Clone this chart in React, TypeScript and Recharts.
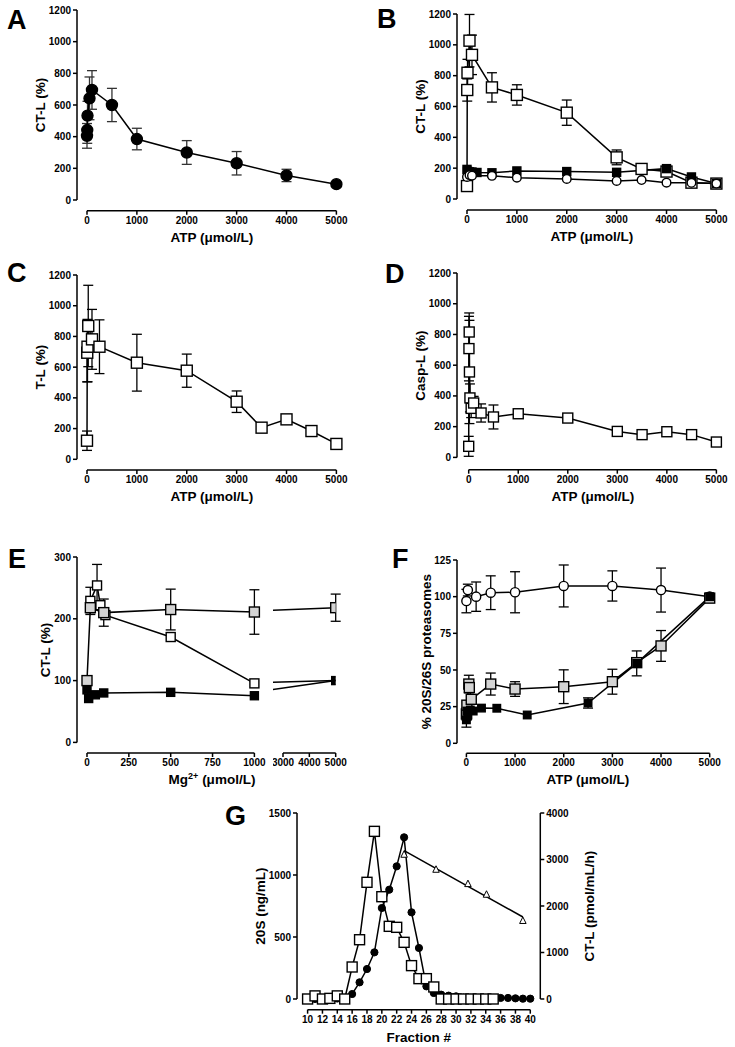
import React from 'react';
import { ComposedChart, Line, XAxis, YAxis, ErrorBar, ReferenceLine } from 'recharts';

const FONT = '"Liberation Sans", Arial, Helvetica, sans-serif';

type Err = number | [number, number];

// ---- A: CT-L vs ATP (filled circles)
const atpA = [0, 5, 10, 50, 100, 500, 1000, 2000, 3000, 4000, 5000];
const ctlA = [405, 442, 533, 642, 695, 600, 385, 300, 232, 155, 100];
const errA: Err[] = [78, 84, 90, 135, 122, 105, 68, 75, 74, 39, 0];

// ---- B: CT-L vs ATP, three preparations
const atpBs = [0, 5, 10, 50, 100, 500, 1000, 2000, 3000, 3500, 4000, 4500, 5000];
const ctlBs = [84, 707, 819, 1027, 935, 724, 675, 560, 270, 195, 178, 106, 100];
const errBs: Err[] = [0, 72, 87, 170, 128, 95, 66, 82, 48, 12, 30, 6, 0];
const atpBb = [0, 10, 50, 100, 200, 500, 1000, 2000, 3000, 4000, 4500, 5000];
const ctlBb = [192, 180, 176, 175, 172, 170, 182, 178, 173, 197, 143, 100];
const atpBc = [0, 50, 100, 500, 1000, 2000, 3000, 3500, 4000, 4500, 5000];
const ctlBc = [143, 155, 151, 150, 138, 130, 117, 123, 106, 105, 100];

// ---- C: T-L vs ATP
const atpC = [0, 5, 10, 25, 100, 250, 1000, 2000, 3000, 3500, 4000, 4500, 5000];
const tlC = [121, 694, 733, 868, 781, 733, 629, 577, 375, 206, 260, 184, 100];
const errC: Err[] = [63, [190, 200], [228, 178], 265, 195, 175, 185, 108, 70, 8, 25, 20, 0];

// ---- D: Casp-L vs ATP
const atpD = [0, 5, 10, 15, 25, 50, 100, 250, 500, 1000, 2000, 3000, 3500, 4000, 4500, 5000];
const caspD = [72, 708, 816, 556, 387, 319, 354, 289, 263, 284, 256, 169, 148, 167, 148, 100];
const errD: Err[] = [65, 210, 124, 336, 91, 60, 43, 59, 78, 27, 10, 12, 8, 8, 8, 0];

// ---- E: CT-L vs Mg2+
const mgEg = [0, 20, 100, 500, 1000];
const ctlEg = [100, 218, 210, 215, 211];
const errEg: Err[] = [0, 8, 22, 33, 36];
const mgEw = [20, 60, 80, 110, 500, 1000];
const ctlEw = [229, 254, 222, 206, 170.5, 95.5];
const errEw: Err[] = [22, 34, 0, 0, 0, 0];
const mgEb = [0, 10, 50, 100, 500, 1000];
const ctlEb = [85, 71, 77, 80, 81, 75.5];
// right part of the broken axis
const mgE2 = [1000, 5000];
const ctlE2g = [211, 218];
const ctlE2w = [95.5, 100];
const ctlE2b = [75.5, 100];
const mgE5 = [5000];
const ctlE5g = [218];
const errE5g: Err[] = [22];
const ctlE5b = [100];

// ---- F: % 20S/26S proteasomes vs ATP
const atpFc = [0, 30, 200, 500, 1000, 2000, 3000, 4000, 5000];
const pctFc = [97, 104.5, 100, 102.7, 103, 107.3, 107.3, 104.5, 100];
const errFc: Err[] = [8, 4, 10, 11.5, 14, 14.3, 10.3, 15, 1.5];
const atpFg = [0, 10, 50, 60, 100, 500, 1000, 2000, 3000, 3500, 4000, 5000];
const pctFg = [20, 26, 40.4, 38, 30, 40.4, 37, 38.6, 42, 55, 66.4, 99];
const errFg: Err[] = [4, 3, 6, 0, 0, 7.5, 5, 11.5, 8.5, 0, 10.5, 1];
const atpFb = [0, 10, 30, 80, 140, 310, 625, 1250, 2500, 3500, 5000];
const pctFb = [16, 22, 19.3, 22.7, 22, 24, 23.9, 19.3, 27.5, 54.5, 100];
const errFb: Err[] = [5, 6, 0, 0, 0, 0, 0, 0, 3.5, 8.5, 1.5];

// ---- G: fractions
const fracS = [10, 11, 12, 13, 14, 15, 16, 17, 18, 19, 20, 21, 22, 23, 24, 25, 26, 27, 28, 29, 30, 31, 32, 33, 34, 35];
const ng20S = [0, 25, 0, 5, 25, 0, 258, 478, 941, 1352, 825, 586, 578, 457, 269, 164, 164, 97, 0, 0, 0, 0, 0, 0, 0, 0];
const fracC = [10, 11, 12, 13, 14, 15, 16, 17, 18, 19, 20, 21, 22, 23, 24, 25, 26, 27, 28, 29, 30, 31, 32, 33, 34, 35, 36, 37, 38, 39, 40];
const ctlG = [0, 0, 5, 5, 10, 10, 107, 358, 645, 1003, 1957, 2351, 2853, 3477, 1864, 1097, 272, 129, 93, 72, 57, 30, 25, 20, 20, 20, 22, 22, 14, 7, 7];
const fracT = [23, 27.3, 31.6, 34.1, 39];
const atpT = [3104, 2781, 2473, 2244, 1680];
const fracFit = [23, 39];
const atpFit = [3190, 1763];

const xTicksATP = [0, 1000, 2000, 3000, 4000, 5000];
const yTicks1200 = [0, 200, 400, 600, 800, 1000, 1200];
const xTicksE1 = [0, 250, 500, 750, 1000];
const xTicksE2 = [3000, 4000, 5000];
const yTicksE = [0, 100, 200, 300];
const yTicksF = [0, 25, 50, 75, 100, 125];
const xTicksG = [10, 12, 14, 16, 18, 20, 22, 24, 26, 28, 30, 32, 34, 36, 38, 40];
const yTicksG = [0, 500, 1000, 1500];
const yTicksGR = [0, 1000, 2000, 3000, 4000];

const rows = (xs: number[], ys: number[], errs?: Err[]) =>
  xs.map((x, i) => ({ x, y: ys[i], err: errs ? errs[i] : 0 }));

// markers
const sq = (s: number, fill: string, sw = 1.4) => (p: any) => (
  <rect key={`q${p.index}`} x={p.cx - s / 2} y={p.cy - s / 2} width={s} height={s} fill={fill} stroke="#000" strokeWidth={sw} />
);
const ci = (r: number, fill: string, sw = 1.4) => (p: any) => (
  <circle key={`c${p.index}`} cx={p.cx} cy={p.cy} r={r} fill={fill} stroke="#000" strokeWidth={sw} />
);
const tri = (s: number) => (p: any) => (
  <polygon
    key={`t${p.index}`}
    points={`${p.cx},${p.cy - s * 0.6} ${p.cx - s / 2},${p.cy + s * 0.4} ${p.cx + s / 2},${p.cy + s * 0.4}`}
    fill="#fff"
    stroke="#000"
    strokeWidth={1}
  />
);

type SOpts = { err?: boolean; line?: boolean; axis?: any; errColor?: string; cap?: number };

function series(key: string, data: any[], dot: any, o: SOpts = {}) {
  return (
    <Line
      key={key}
      data={data}
      dataKey="y"
      type="linear"
      yAxisId={o.axis ?? 0}
      stroke={o.line === false ? 'none' : '#000'}
      strokeWidth={1.5}
      dot={dot}
      activeDot={false}
      legendType="none"
      isAnimationActive={false}
    >
      {o.err && <ErrorBar dataKey="err" direction="y" width={o.cap ?? 5} stroke={o.errColor ?? '#000'} strokeWidth={1.3} />}
    </Line>
  );
}

type Frame = {
  ax: number; // x of the y axis line
  ay: number; // y of the x axis line
  xa: [number, number]; // px of first / last x tick
  ya: [number, number]; // px of first / last y tick
  xr: [number, number];
  yr: [number, number];
};

const frameA: Frame = { ax: 77.3, ay: 210.7, xa: [87.3, 336.7], ya: [200, 10], xr: [0, 5000], yr: [0, 1200] };
const frameB: Frame = { ax: 457.3, ay: 210, xa: [467.3, 716.7], ya: [199, 14], xr: [0, 5000], yr: [0, 1200] };
const frameC: Frame = { ax: 77.3, ay: 470, xa: [87.3, 336.7], ya: [459.3, 275], xr: [0, 5000], yr: [0, 1200] };
const frameD: Frame = { ax: 457.3, ay: 470, xa: [469, 716.7], ya: [457.7, 273.3], xr: [0, 5000], yr: [0, 1200] };
const frameE1: Frame = { ax: 77.3, ay: 753.3, xa: [87.3, 254.7], ya: [742.7, 557.3], xr: [0, 1000], yr: [0, 300] };
const frameE2: Frame = { ax: 273.3, ay: 753.3, xa: [283.3, 336], ya: [742.7, 557.3], xr: [3000, 5000], yr: [0, 300] };
const frameF: Frame = { ax: 457.3, ay: 753.3, xa: [466.7, 710], ya: [743.3, 560], xr: [0, 5000], yr: [0, 125] };
const frameG: Frame = { ax: 296.7, ay: 1010, xa: [307.3, 530], ya: [999.3, 813.3], xr: [10, 40], yr: [0, 1500] };

const tick = { fill: '#000', fontSize: 10, fontWeight: 'bold', fontFamily: FONT };
const tickLine = { stroke: '#000', strokeWidth: 1.5 };
const axisStroke = { stroke: '#000', strokeWidth: 1.5, ifOverflow: 'visible' as const };

type PanelProps = {
  f: Frame;
  xTicks: number[];
  yTicks: number[];
  children: React.ReactNode;
  hideY?: boolean;
  clip?: boolean;
  right?: { x: number; yr: [number, number]; ticks: number[] };
};

function Panel({ f, xTicks, yTicks, children, hideY, clip, right }: PanelProps) {
  const kx = (f.xa[1] - f.xa[0]) / (f.xr[1] - f.xr[0]);
  const ky = (f.ya[0] - f.ya[1]) / (f.yr[1] - f.yr[0]);
  const plotRight = right ? right.x : f.xa[1];
  const xd = [f.xr[0] - (f.xa[0] - f.ax) / kx, f.xr[1] + (plotRight - f.xa[1]) / kx];
  const yd = [f.yr[0] - (f.ay - f.ya[0]) / ky, f.yr[1]];
  let rd = [0, 1];
  if (right) {
    const kr = (f.ya[0] - f.ya[1]) / (right.yr[1] - right.yr[0]);
    rd = [right.yr[0] - (f.ay - f.ya[0]) / kr, right.yr[1]];
  }
  const lw = hideY ? 0 : 44;
  const rw = right ? 50 : 0;
  const topPad = 8;
  const rightPad = right ? 0 : 16;
  const xh = 24;
  const width = lw + (plotRight - f.ax) + rw + rightPad;
  const height = topPad + (f.ay - f.ya[1]) + xh;
  return (
    <div style={{ position: 'absolute', left: f.ax - lw, top: f.ya[1] - topPad }}>
      <ComposedChart width={width} height={height} margin={{ top: topPad, right: rightPad, bottom: 0, left: 0 }}>
        <XAxis
          type="number"
          dataKey="x"
          domain={xd}
          ticks={xTicks}
          interval={0}
          allowDataOverflow={!!clip}
          axisLine={false}
          tickLine={tickLine}
          tickSize={4}
          tick={tick}
          height={xh}
        />
        <YAxis
          yAxisId={0}
          type="number"
          domain={yd}
          ticks={yTicks}
          interval={0}
          axisLine={false}
          tickLine={tickLine}
          tickSize={4}
          tick={tick}
          width={lw}
          hide={hideY}
        />
        {right && (
          <YAxis
            yAxisId="r"
            orientation="right"
            type="number"
            domain={rd}
            ticks={right.ticks}
            interval={0}
            axisLine={false}
            tickLine={tickLine}
            tickSize={4}
            tick={tick}
            width={rw}
          />
        )}
        {!hideY && <ReferenceLine yAxisId={0} segment={[{ x: xd[0], y: f.yr[0] }, { x: xd[0], y: f.yr[1] }]} {...axisStroke} />}
        <ReferenceLine yAxisId={0} segment={[{ x: f.xr[0], y: yd[0] }, { x: f.xr[1], y: yd[0] }]} {...axisStroke} />
        {right && <ReferenceLine yAxisId="r" segment={[{ x: xd[1], y: right.yr[0] }, { x: xd[1], y: right.yr[1] }]} {...axisStroke} />}
        {children}
      </ComposedChart>
    </div>
  );
}

function T({ x, y, size = 13.5, rot, anchor = 'middle', children }: any) {
  return (
    <text
      x={x}
      y={y}
      fontSize={size}
      fontWeight="bold"
      fontFamily={FONT}
      textAnchor={anchor}
      fill="#000"
      transform={rot ? `rotate(-90 ${x} ${y})` : undefined}
    >
      {children}
    </text>
  );
}

function Titles() {
  const L = 27;
  return (
    <svg width={735} height={1047} style={{ position: 'absolute', left: 0, top: 0, pointerEvents: 'none' }}>
      <T x={7} y={29} size={L} anchor="start">A</T>
      <T x={45} y={105} rot>CT-L (%)</T>
      <T x={212} y={242}>ATP (μmol/L)</T>

      <T x={377} y={28} size={L} anchor="start">B</T>
      <T x={425} y={106.5} rot>CT-L (%)</T>
      <T x={592} y={241}>ATP (μmol/L)</T>

      <T x={7} y={282} size={L} anchor="start">C</T>
      <T x={45} y={367} rot>T-L (%)</T>
      <T x={212} y={501}>ATP (μmol/L)</T>

      <T x={385} y={283} size={L} anchor="start">D</T>
      <T x={425} y={365.5} rot>Casp-L (%)</T>
      <T x={593} y={501}>ATP (μmol/L)</T>

      <T x={8} y={568} size={L} anchor="start">E</T>
      <T x={50} y={650} rot>CT-L (%)</T>
      <T x={212} y={784}>
        Mg<tspan dy={-5} fontSize={9}>2+</tspan>
        <tspan dy={5}> (μmol/L)</tspan>
      </T>

      <T x={392} y={568} size={L} anchor="start">F</T>
      <T x={431} y={651.7} rot>% 20S/26S proteasomes</T>
      <T x={588} y={784}>ATP (μmol/L)</T>

      <T x={225} y={825} size={L} anchor="start">G</T>
      <T x={265} y={906} rot>20S (ng/mL)</T>
      <T x={594} y={906} rot>CT-L (pmol/mL/h)</T>
      <T x={418.7} y={1041.5}>Fraction #</T>
    </svg>
  );
}

export default function App() {
  return (
    <div style={{ position: 'absolute', left: 0, top: 0, width: 735, height: 1047, background: '#fff' }}>
      <Panel f={frameA} xTicks={xTicksATP} yTicks={yTicks1200}>
        {series('a', rows(atpA, ctlA, errA), ci(5.5, '#000'), { err: true, errColor: '#333' })}
      </Panel>

      <Panel f={frameB} xTicks={xTicksATP} yTicks={yTicks1200}>
        {series('bs', rows(atpBs, ctlBs, errBs), sq(11, '#fff'), { err: true })}
        {series('bb', rows(atpBb, ctlBb), sq(8, '#000'))}
        {series('bc', rows(atpBc, ctlBc), ci(4.3, '#fff'))}
      </Panel>

      <Panel f={frameC} xTicks={xTicksATP} yTicks={yTicks1200}>
        {series('c', rows(atpC, tlC, errC), sq(11, '#fff'), { err: true })}
      </Panel>

      <Panel f={frameD} xTicks={xTicksATP} yTicks={yTicks1200}>
        {series('d', rows(atpD, caspD, errD), sq(10, '#fff'), { err: true })}
      </Panel>

      <Panel f={frameE1} xTicks={xTicksE1} yTicks={yTicksE}>
        {series('eb', rows(mgEb, ctlEb), sq(8, '#000'))}
        {series('ew', rows(mgEw, ctlEw, errEw), sq(9, '#fff'), { err: true })}
        {series('eg', rows(mgEg, ctlEg, errEg), sq(10, '#d4d4d4'), { err: true })}
      </Panel>

      <Panel f={frameE2} xTicks={xTicksE2} yTicks={yTicksE} hideY clip>
        {series('e2w', rows(mgE2, ctlE2w), false)}
        {series('e2b', rows(mgE2, ctlE2b), false)}
        {series('e2g', rows(mgE2, ctlE2g), false)}
        {series('e5b', rows(mgE5, ctlE5b), sq(8, '#000'), { line: false })}
        {series('e5g', rows(mgE5, ctlE5g, errE5g), sq(10, '#d4d4d4'), { err: true, line: false })}
      </Panel>

      <Panel f={frameF} xTicks={xTicksATP} yTicks={yTicksF}>
        {series('fc', rows(atpFc, pctFc, errFc), ci(4.6, '#fff'), { err: true })}
        {series('fg', rows(atpFg, pctFg, errFg), sq(10, '#d4d4d4'), { err: true })}
        {series('fb', rows(atpFb, pctFb, errFb), sq(7.5, '#000'), { err: true })}
      </Panel>

      <Panel f={frameG} xTicks={xTicksG} yTicks={yTicksG} right={{ x: 540, yr: [0, 4000], ticks: yTicksGR }}>
        {series('gc', rows(fracC, ctlG), ci(3.6, '#000', 1), { axis: 'r' })}
        {series('gs', rows(fracS, ng20S), sq(10, '#fff'))}
        {series('gfit', rows(fracFit, atpFit), false, { axis: 'r' })}
        {series('gt', rows(fracT, atpT), tri(6.5), { axis: 'r', line: false })}
      </Panel>

      <Titles />
    </div>
  );
}
